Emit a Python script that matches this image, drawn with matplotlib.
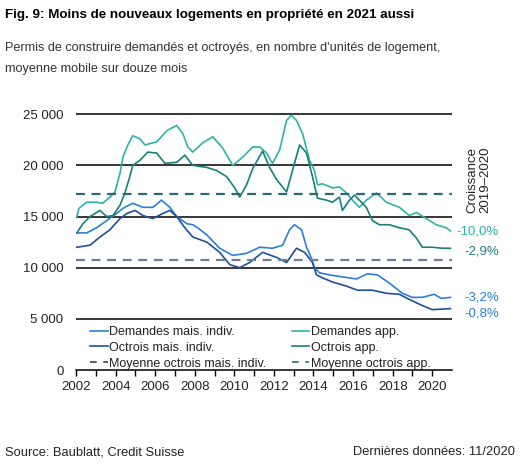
import matplotlib
matplotlib.use("Agg")
import matplotlib.pyplot as plt
from matplotlib.lines import Line2D
import numpy as np

plt.rcParams['font.family'] = ['Liberation Sans', 'DejaVu Sans']

# ---- data (year, value in thousands) ----
dem_mais = [(2002.04,13.4),(2002.54,13.4),(2003.04,13.9),(2003.55,14.6),(2004.05,15.3),(2004.37,15.8),
            (2004.87,16.3),(2005.38,15.9),(2005.88,15.9),(2006.32,16.6),(2006.74,15.9),(2007.09,15.0),
            (2007.60,14.3),(2007.90,14.2),(2008.15,13.9),(2008.61,13.2),(2009.26,11.9),(2009.92,11.2),
            (2010.62,11.4),(2011.28,12.0),(2011.93,11.9),(2012.44,12.2),(2012.79,13.7),(2013.04,14.2),
            (2013.40,13.7),(2013.65,12.0),(2013.90,10.9),(2014.05,10.0),(2014.30,9.5),(2014.81,9.3),
            (2015.46,9.1),(2016.17,8.9),(2016.72,9.4),(2017.23,9.3),(2017.83,8.5),(2018.49,7.5),
            (2018.99,7.1),(2019.50,7.1),(2020.10,7.4),(2020.46,7.0),(2020.92,7.1)]
oct_mais = [(2002.04,12.0),(2002.71,12.2),(2003.21,13.0),(2003.71,13.7),(2004.22,14.8),(2004.57,15.3),
            (2004.98,15.6),(2005.38,15.1),(2005.88,14.8),(2006.39,15.3),(2006.74,15.6),(2007.09,15.0),
            (2007.50,13.9),(2007.90,13.0),(2008.61,12.5),(2009.26,11.5),(2009.77,10.3),(2010.27,10.0),
            (2010.77,10.5),(2011.43,11.5),(2012.14,11.0),(2012.64,10.5),(2013.14,11.9),(2013.55,11.5),
            (2013.95,10.5),(2014.15,9.3),(2014.46,9.0),(2014.96,8.6),(2015.67,8.2),(2016.22,7.8),
            (2016.98,7.8),(2017.68,7.5),(2018.34,7.4),(2018.84,6.9),(2019.50,6.3),(2020.00,5.9),
            (2020.92,6.0)]
dem_app = [(2002.04,15.0),(2002.15,15.8),(2002.54,16.4),(2003.04,16.4),(2003.36,16.3),(2003.71,16.9),
           (2003.97,17.4),(2004.22,19.2),(2004.37,20.8),(2004.62,22.0),(2004.87,22.9),(2005.23,22.6),
           (2005.48,22.0),(2006.08,22.3),(2006.59,23.4),(2007.09,23.9),(2007.40,23.1),(2007.65,21.8),
           (2007.90,21.3),(2008.40,22.2),(2008.91,22.8),(2009.41,21.7),(2009.92,20.0),(2010.42,20.8),
           (2010.93,21.8),(2011.28,21.8),(2011.63,21.2),(2011.93,20.2),(2012.29,21.5),(2012.64,24.4),
           (2012.88,24.9),(2013.14,24.4),(2013.45,23.1),(2013.80,20.5),(2014.05,19.5),(2014.20,18.1),
           (2014.46,18.2),(2014.96,17.8),(2015.31,17.9),(2015.67,17.3),(2015.97,16.6),(2016.32,15.9),
           (2016.67,16.6),(2017.18,17.3),(2017.68,16.4),(2018.34,15.9),(2018.84,15.1),(2019.20,15.4),
           (2019.70,14.8),(2020.20,14.2),(2020.71,13.9),(2020.92,13.6)]
oct_app = [(2002.04,13.4),(2002.35,14.3),(2002.71,15.0),(2003.21,15.6),(2003.55,15.0),(2003.87,15.1),
           (2004.22,16.1),(2004.47,17.3),(2004.72,18.9),(2004.87,20.0),(2005.23,20.5),(2005.63,21.3),
           (2006.08,21.2),(2006.49,20.2),(2007.09,20.3),(2007.50,21.0),(2007.90,20.0),(2008.61,19.8),
           (2009.11,19.5),(2009.61,18.9),(2010.02,17.8),(2010.27,16.9),(2010.62,18.1),(2010.93,19.7),
           (2011.43,21.4),(2011.78,19.8),(2012.14,18.6),(2012.64,17.4),(2012.94,19.5),(2013.30,22.0),
           (2013.65,21.2),(2013.95,18.9),(2014.20,16.8),(2014.66,16.6),(2014.96,16.4),(2015.31,16.9),
           (2015.46,15.6),(2015.82,16.6),(2016.07,17.1),(2016.32,16.6),(2016.67,15.9),(2016.98,14.6),
           (2017.33,14.2),(2017.83,14.2),(2018.34,13.9),(2018.84,13.7),(2019.20,12.9),(2019.50,12.0),
           (2020.00,12.0),(2020.51,11.9),(2020.92,11.9)]
avg_oct_mais = 10750
avg_oct_app = 17250

series_labels = ["Demandes mais. indiv.", "Demandes app.", "Octrois mais. indiv.", "Octrois app.",
                 "Moyenne octrois mais. indiv.", "Moyenne octrois app."]
growth_labels = ["-10,0%", "-2,9%", "-3,2%", "-0,8%"]
yticks = [0, 5000, 10000, 15000, 20000, 25000]
xticks_major = list(range(2002, 2021, 2))

c_dem_mais = "#2a7fdc"
c_oct_mais = "#1f4f9e"
c_dem_app = "#2bb5a6"
c_oct_app = "#17807a"
c_avg_mais = "#6e7d93"
c_avg_app = "#2f6870"

W, H = 520, 469
fig = plt.figure(figsize=(W/100, H/100), dpi=100)
ax = fig.add_axes([76/W, 1-370/H, 376/W, 266/H])

def xy(s):
    a = np.array(s)
    return a[:, 0], a[:, 1]*1000

lw = 1.2
h1, = ax.plot(*xy(dem_mais), color=c_dem_mais, lw=lw, label=series_labels[0])
h3, = ax.plot(*xy(oct_mais), color=c_oct_mais, lw=lw, label=series_labels[2])
h2, = ax.plot(*xy(dem_app), color=c_dem_app, lw=lw, label=series_labels[1])
h4, = ax.plot(*xy(oct_app), color=c_oct_app, lw=lw, label=series_labels[3])
ax.axhline(avg_oct_mais, color=c_avg_mais, lw=1.6, ls=(0, (4, 3)))
ax.axhline(avg_oct_app, color=c_avg_app, lw=1.6, ls=(0, (4, 3)))
h5 = Line2D([], [], color="#34435a", lw=1.2, ls=(0, (4, 4)), label=series_labels[4])
h6 = Line2D([], [], color=c_avg_app, lw=1.2, ls=(0, (4, 4)), label=series_labels[5])

for v in yticks[1:]:
    ax.axhline(v, color="black", lw=1.1, zorder=0.5)

ax.set_xlim(2002, 2021)
ax.set_ylim(0, 26000)
for s in ["top", "right", "left"]:
    ax.spines[s].set_visible(False)
ax.spines["bottom"].set_linewidth(1.1)
ax.set_yticks(yticks)
ax.set_yticklabels([f"{v:,}".replace(",", " ") for v in yticks])
ax.tick_params(axis="y", length=0, pad=9, labelsize=9.5, colors="#222222")
ax.set_xticks(xticks_major)
ax.set_xticks(range(2003, 2021, 2), minor=True)
ax.tick_params(axis="x", which="both", direction="out", length=4, width=1, labelsize=9.5, pad=4, colors="black")
ax.tick_params(axis="x", labelcolor="#222222")

leg = ax.legend(handles=[h1, h3, h5, h2, h4, h6], ncol=2, frameon=False, fontsize=9,
                loc="upper left", bbox_to_anchor=(90/W, 1-326/H), bbox_transform=fig.transFigure,
                borderaxespad=0, borderpad=0, handlelength=1.4, handletextpad=0.15,
                columnspacing=2.0, labelspacing=0.3)
for t in leg.get_texts():
    t.set_color("#222222")

# end labels
gcols = [c_dem_app, c_oct_app, c_dem_mais, c_dem_mais]
gys = [231, 252, 297, 313]
for lab, c, yy in zip(growth_labels, gcols, gys):
    fig.text(499/W, 1-yy/H, lab, color=c, fontsize=9.5, ha="right", va="center")

fig.text(479/W, 1-180/H, "Croissance\n2019–2020", rotation=90, ha="center", va="center",
         fontsize=9.5, color="#222222", linespacing=1.1)

fig.text(5/W, 1-15/H, "Fig. 9: Moins de nouveaux logements en propriété en 2021 aussi",
         fontsize=9.6, fontweight="bold", ha="left", va="center", color="black")
fig.text(5/W, 1-48/H, "Permis de construire demandés et octroyés, en nombre d'unités de logement,",
         fontsize=9.1, ha="left", va="center", color="#333333")
fig.text(5/W, 1-69/H, "moyenne mobile sur douze mois",
         fontsize=9.1, ha="left", va="center", color="#333333")
fig.text(5/W, 1-452/H, "Source: Baublatt, Credit Suisse", fontsize=9.3, ha="left", va="center", color="#222222")
fig.text(515/W, 1-452/H, "Dernières données: 11/2020", fontsize=9.3, ha="right", va="center", color="#222222")

fig.savefig("out.png", dpi=100)
